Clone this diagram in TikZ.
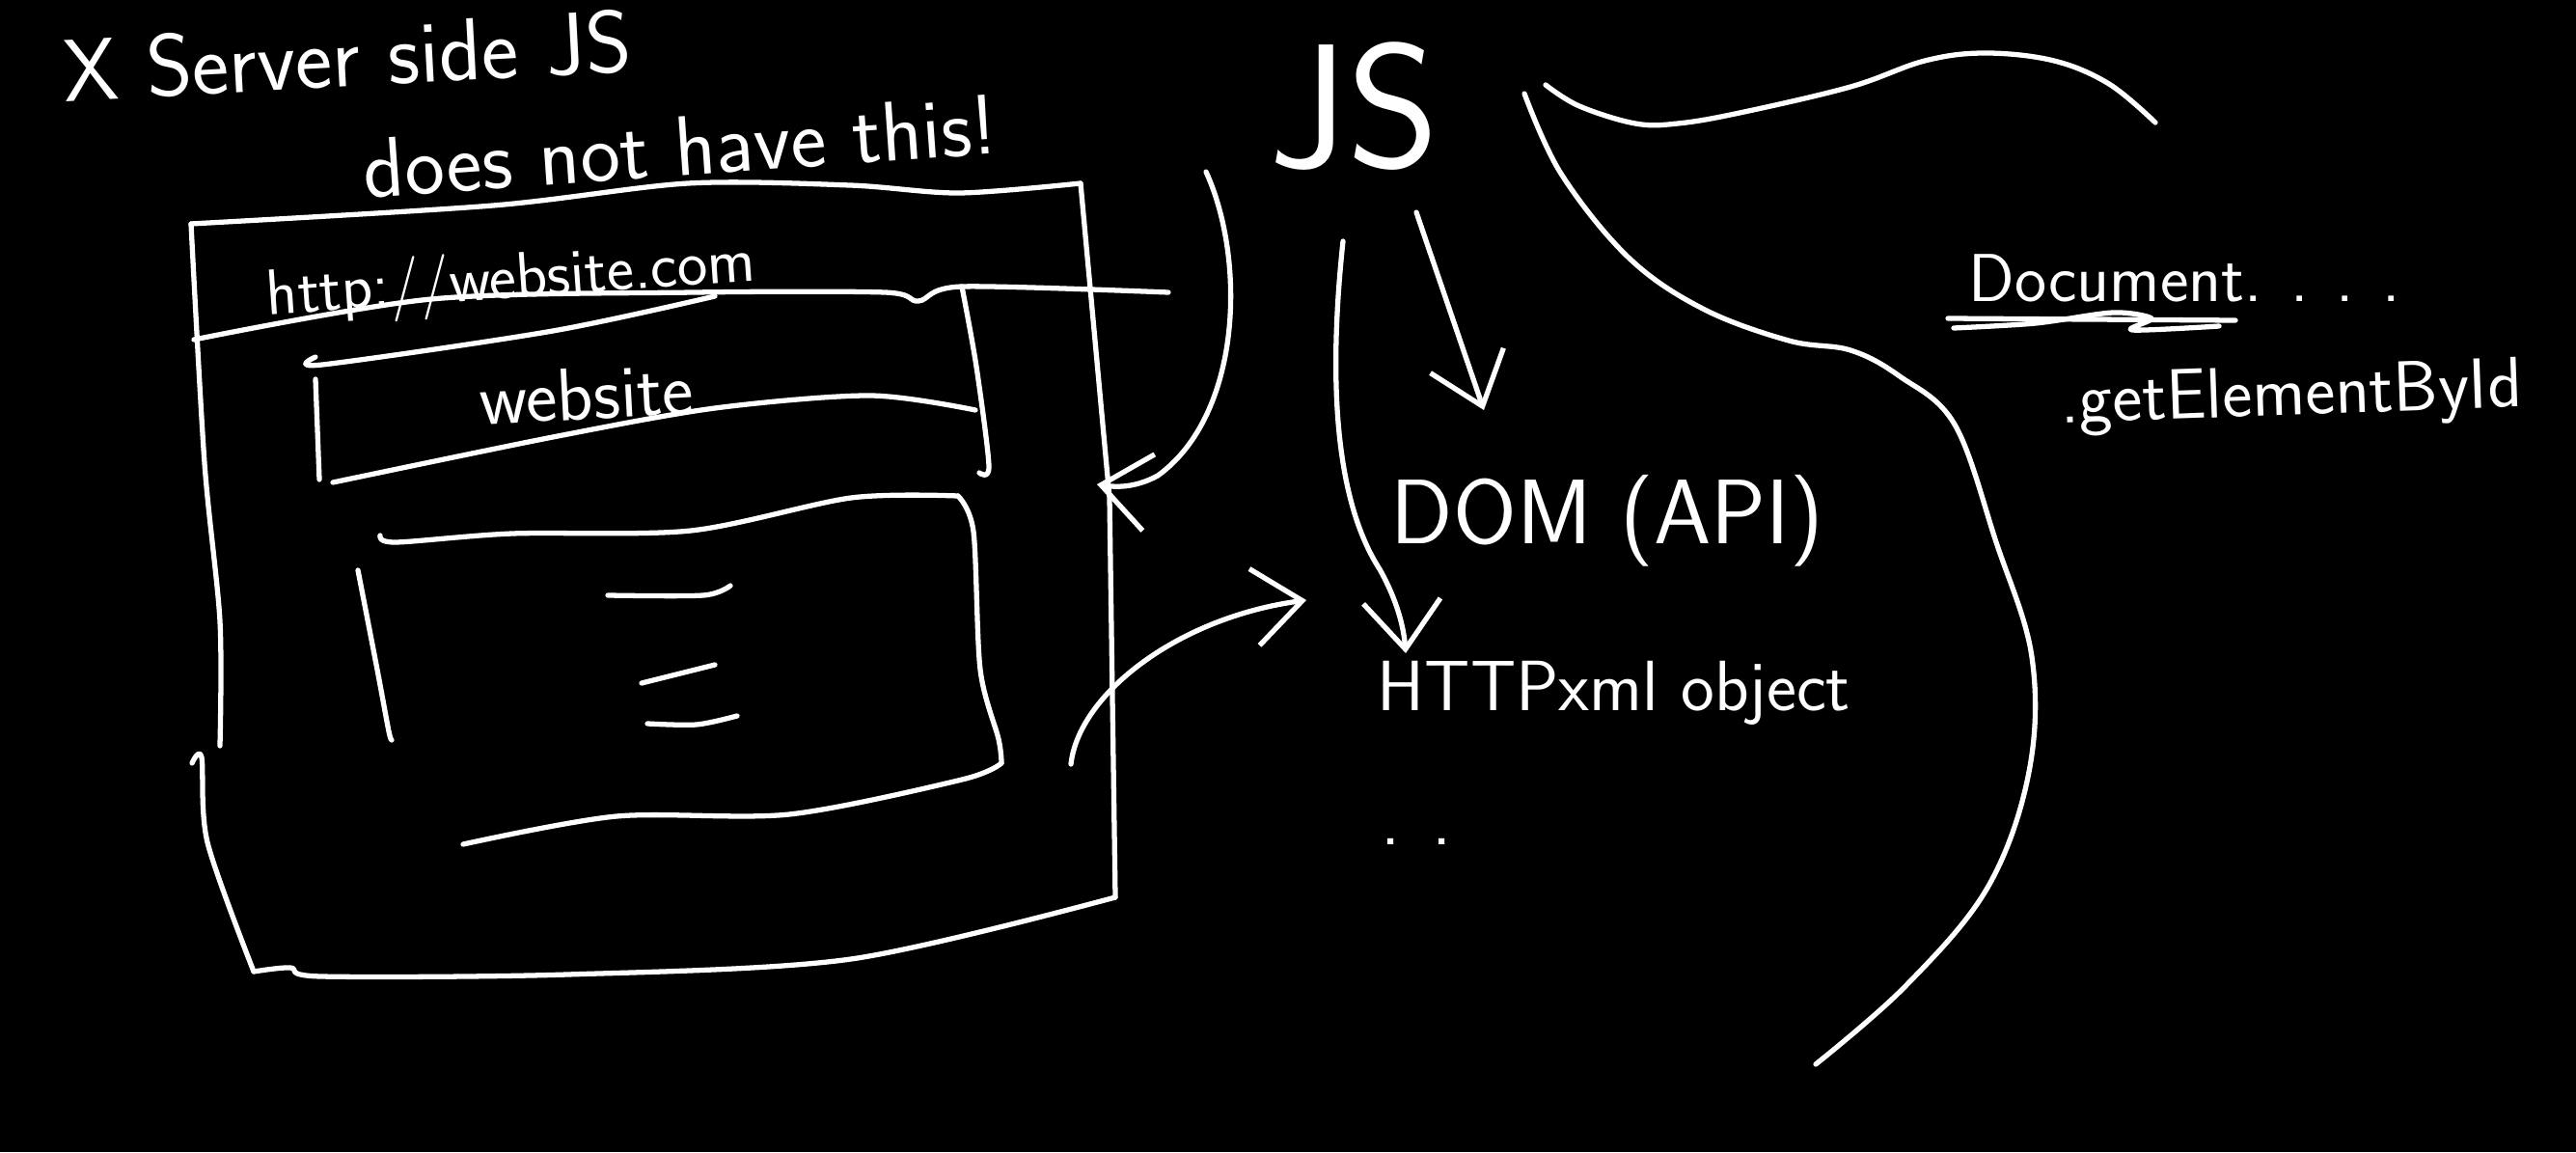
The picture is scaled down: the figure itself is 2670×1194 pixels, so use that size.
\documentclass[tikz,border=0pt]{standalone}
\usepackage{fontspec}
\usepackage{tikz}
\usetikzlibrary{arrows.meta, positioning}
\tikzstyle{chalk} = [draw=white, line width=1.5pt, line cap=round, line join=round]
\tikzstyle{scrawl} = [text=white, inner sep=0pt, font=\sffamily]
\tikzstyle{barb} = [-{Straight Barb[length=5mm, width=8mm]}]

\begin{document}
\begin{tikzpicture}[x=0.01cm, y=-0.01cm]
	\fill[black] (0,0) rectangle (2670,1194);
	\useasboundingbox (0,0) rectangle (2670,1194);

	% note on top
	\node (Note) [scrawl, rotate=3] at (360,58) {\fontsize{26}{30}\selectfont X Server side JS};
	\node (NoteB) [scrawl, rotate=4] at (705,152) {\fontsize{25}{30}\selectfont does not have this!};

	% browser window
	\draw[chalk] plot[smooth, tension=0.5] coordinates {(198,232) (511,213) (713,190) (881,192) (994,200) (1120,190)};
	\draw[chalk] (1120,190) -- (1150,516) -- (1156,930);
	\draw[chalk] plot[smooth, tension=0.5] coordinates {(1156,930) (882,994) (588,1010) (333,1012) (301,1003) (263,1007)};
	\draw[chalk] plot[smooth, tension=0.5] coordinates {(198,232) (212,480) (228,644) (228,773)};
	\draw[chalk] plot[smooth, tension=0.5] coordinates {(199,791) (209,785) (215,873) (263,1007)};

	% address bar
	\draw[chalk] plot[smooth, tension=0.5] coordinates {(201,352) (447,310) (720,303) (917,303) (952,312) (997,297) (1211,303)};
	\node (Url) [scrawl, rotate=4] at (530,292) {\fontsize{19}{22}\selectfont http://website.com};

	% title box
	\draw[chalk] plot[smooth, tension=0.5] coordinates {(327,370) (334,378) (573,343) (741,307)};
	\draw[chalk] plot[smooth, tension=0.5] coordinates {(997,297) (1012,380) (1025,483) (1015,490)};
	\draw[chalk] (327,393) -- (331,497);
	\draw[chalk] plot[smooth, tension=0.5] coordinates {(345,500) (573,453) (741,423) (902,410) (1011,425)};
	\node (Site) [scrawl, rotate=3] at (608,408) {\fontsize{22}{26}\selectfont website};

	% content box
	\draw[chalk] plot[smooth, tension=0.5] coordinates {(394,555) (410,562) (531,553) (716,550) (882,516) (993,514)};
	\draw[chalk] plot[smooth, tension=0.5] coordinates {(993,514) (1009,551) (1016,694) (1035,766) (1038,791)};
	\draw[chalk] plot[smooth, tension=0.5] coordinates {(1038,791) (997,808) (818,844) (639,846) (480,875)};
	\draw[chalk] plot[smooth, tension=0.5] coordinates {(371,591) (391,694) (403,758) (406,767)};
	\draw[chalk] plot[smooth, tension=0.5] coordinates {(630,617) (729,617) (757,607)};
	\draw[chalk] (665,708) -- (741,689);
	\draw[chalk] plot[smooth, tension=0.5] coordinates {(671,750) (722,751) (764,742)};

	% JS side
	\node (Js) [scrawl] at (1404,110) {\fontsize{52}{58}\selectfont JS};
	\node (Dom) [scrawl] at (1666,540) {\fontsize{27}{32}\selectfont DOM (API)};
	\node (Xhr) [scrawl] at (1673,718) {\fontsize{21}{25}\selectfont HTTPxml object};
	\node (Dots) [scrawl] at (1468,872) {\fontsize{22}{26}\selectfont . .};

	\coordinate (JsLeft) at (1392,250);
	\coordinate (JsRight) at (1468,220);
	\coordinate (JsBack) at (1250,178);
	\coordinate (DomIn) at (1538,425);
	\coordinate (XhrIn) at (1457,677);
	\coordinate (XhrSide) at (1354,622);
	\coordinate (WinIn) at (1137,502);
	\coordinate (WinOut) at (1110,792);

	\draw[chalk, barb] (JsRight) -- (DomIn);
	\draw[chalk, barb] (JsLeft) .. controls (1376,400) and (1385,520) .. (1430,590) .. controls (1448,622) and (1455,650) .. (XhrIn);
	\draw[chalk, barb] (JsBack) .. controls (1292,270) and (1287,430) .. (1200,493) .. controls (1176,506) and (1156,505) .. (WinIn);
	\draw[chalk, barb] (WinOut) .. controls (1118,720) and (1220,640) .. (XhrSide);

	% document region
	\draw[chalk] plot[smooth, tension=0.6] coordinates {(1580,97) (1618,180) (1688,267) (1765,320) (1854,353) (1918,363) (1969,390) (2026,440) (2069,562) (2106,681) (2103,800) (2060,920) (1975,1022) (1882,1103)};
	\draw[chalk] plot[smooth, tension=0.6] coordinates {(1602,88) (1637,110) (1695,128) (1739,128) (1803,117) (1918,90) (1995,63) (2058,55) (2129,63) (2186,87) (2234,127)};

	\node (Doc) [scrawl, anchor=base west] at (2040,312) {\fontsize{20}{24}\selectfont Document. . . .};
	\draw[chalk] (2019,330) -- (2317,332);
	\draw[chalk] plot[smooth, tension=0.5] coordinates {(2025,340) (2110,335) (2190,324) (2230,330) (2210,342) (2300,338)};
	\node (GetById) [scrawl, rotate=2] at (2375,412) {\fontsize{21}{25}\selectfont .getElementById};
\end{tikzpicture}
\end{document}
